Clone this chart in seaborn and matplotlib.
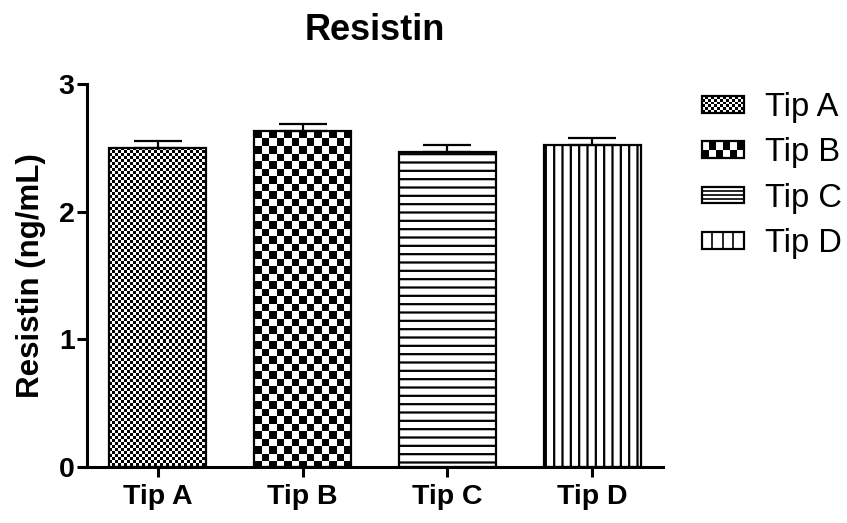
import numpy as np
import pandas as pd
import matplotlib
matplotlib.use("Agg")
import matplotlib.pyplot as plt
import seaborn as sns
from matplotlib.patches import Rectangle, Patch
from matplotlib.lines import Line2D
from matplotlib.legend_handler import HandlerBase

# data
tips = ["Tip A", "Tip B", "Tip C", "Tip D"]
means = [2.50, 2.63, 2.465, 2.52]
errs = [0.055, 0.055, 0.055, 0.06]

sns.set_style("ticks", rc={"axes.edgecolor": "black", "text.color": "black",
                           "axes.labelcolor": "black", "xtick.color": "black",
                           "ytick.color": "black"})
plt.rcParams["font.family"] = ["Liberation Sans", "DejaVu Sans"]
plt.rcParams["hatch.linewidth"] = 1.6
plt.rcParams["hatch.color"] = "black"

df = pd.DataFrame({"tip": tips, "resistin": means})

fig = plt.figure(figsize=(8.47, 5.23), dpi=100)
ax = fig.add_axes([87 / 847, 1 - 467 / 523, (663 - 87) / 847, (467 - 84) / 523])

sns.barplot(data=df, x="tip", y="resistin", color="white", saturation=1,
            width=0.67, edgecolor="black", linewidth=1.6, errorbar=None, ax=ax)

# upward-only error bars
ax.errorbar(np.arange(len(tips)), means, yerr=[np.zeros(len(errs)), errs],
            fmt="none", ecolor="black", elinewidth=1.6, capsize=17.5, capthick=1.6, zorder=5)

ax.set_xlim(-0.49, 3.49)
ax.set_ylim(0, 3)
ax.set_yticks([0, 1, 2, 3])
for s in ["top", "right"]:
    ax.spines[s].set_visible(False)
for s in ["left", "bottom"]:
    ax.spines[s].set_linewidth(2.2)
ax.tick_params(axis="both", length=7, width=2.2, direction="out")
ax.tick_params(axis="y", pad=2)
ax.tick_params(axis="x", pad=5)
for lab in ax.get_xticklabels() + ax.get_yticklabels():
    lab.set_fontsize(20.5)
    lab.set_fontweight("bold")
ax.set_xlabel("")
ax.set_ylabel("Resistin (ng/mL)", fontsize=22.5, fontweight="bold", labelpad=9)
ax.set_title("Resistin", fontsize=26, fontweight="bold", pad=32)

bars = list(ax.patches)[:4]
bars[2].set_hatch("--")
bars[3].set_hatch("||")

# checkerboard fills for Tip A and Tip B
fig.canvas.draw()
inv = ax.transData.inverted()
for bar, cell in [(bars[0], 3.0), (bars[1], 7.5)]:
    ext = bar.get_window_extent()
    nx = int(np.ceil(ext.width / cell)) + 1
    ny = int(np.ceil(ext.height / cell)) + 1
    board = (np.add.outer(np.arange(ny), np.arange(nx)) % 2).astype(float)
    (dx0, dy1) = inv.transform((ext.x0, ext.y1))
    (dx1, dy0) = inv.transform((ext.x0 + nx * cell, ext.y1 - ny * cell))
    im = ax.imshow(board, cmap="gray", vmin=0, vmax=1, interpolation="nearest",
                   extent=(dx0, dx1, dy0, dy1), origin="upper", aspect="auto",
                   zorder=bar.get_zorder() - 0.1)
    im.set_clip_path(bar)
    bar.set_facecolor("none")
ax.set_xlim(-0.49, 3.49)
ax.set_ylim(0, 3)


class FillHandler(HandlerBase):
    def __init__(self, kind, n):
        super().__init__()
        self.kind = kind
        self.n = n

    def create_artists(self, legend, orig_handle, xdescent, ydescent,
                       width, height, fontsize, trans):
        x0, y0 = -xdescent, -ydescent
        arts = []
        if self.kind == "checker":
            cw = width / self.n
            ny = max(1, int(round(height / cw)))
            ch = height / ny
            for i in range(self.n):
                for j in range(ny):
                    if (i + j) % 2 == 0:
                        arts.append(Rectangle((x0 + i * cw, y0 + j * ch), cw, ch,
                                              facecolor="black", edgecolor="none",
                                              transform=trans))
        elif self.kind == "hlines":
            for k in range(1, self.n):
                yy = y0 + height * k / self.n
                arts.append(Line2D([x0, x0 + width], [yy, yy], color="black",
                                   lw=1.2, transform=trans))
        else:
            for k in range(1, self.n):
                xx = x0 + width * k / self.n
                arts.append(Line2D([xx, xx], [y0, y0 + height], color="black",
                                   lw=1.2, transform=trans))
        arts.append(Rectangle((x0, y0), width, height, facecolor="none",
                              edgecolor="black", lw=1.6, transform=trans))
        return arts


handles = [Patch(label=t) for t in tips]
hmap = {handles[0]: FillHandler("checker", 14),
        handles[1]: FillHandler("checker", 6),
        handles[2]: FillHandler("hlines", 4),
        handles[3]: FillHandler("vlines", 4)}
fig.legend(handles=handles, labels=tips, handler_map=hmap, loc="upper left",
           bbox_to_anchor=(702 / 847, 1 - 92 / 523), frameon=False,
           fontsize=23.5, handlelength=1.28, handleheight=0.4,
           handletextpad=0.65, labelspacing=0.44, borderpad=0, borderaxespad=0)

fig.savefig("out.png", dpi=100)
